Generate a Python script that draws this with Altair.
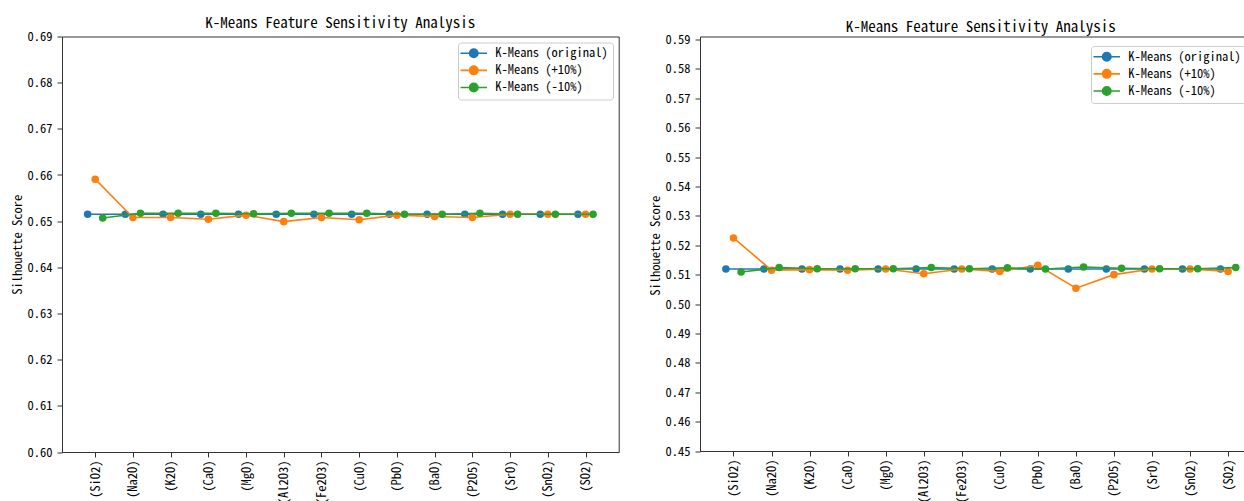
import altair as alt
import pandas as pd

features = ["(SiO2)", "(Na2O)", "(K2O)", "(CaO)", "(MgO)", "(Al2O3)", "(Fe2O3)",
            "(CuO)", "(PbO)", "(BaO)", "(P2O5)", "(SrO)", "(SnO2)", "(SO2)"]
series_names = ["K-Means (original)", "K-Means (+10%)", "K-Means (-10%)"]
colors = ["#1f77b4", "#ff7f0e", "#2ca02c"]

# left panel
left_original = [0.6515] * 14
left_plus = [0.6591, 0.6508, 0.6508, 0.6504, 0.6513, 0.6499, 0.6508,
             0.6503, 0.6513, 0.6510, 0.6508, 0.6515, 0.6515, 0.6515]
left_minus = [0.6507, 0.6517, 0.6517, 0.6517, 0.6516, 0.6517, 0.6517,
              0.6517, 0.6515, 0.6515, 0.6517, 0.6515, 0.6515, 0.6515]
left_ticks = [0.60, 0.61, 0.62, 0.63, 0.64, 0.65, 0.66, 0.67, 0.68, 0.69]

# right panel
right_original = [0.5119] * 14
right_plus = [0.5225, 0.5115, 0.5117, 0.5115, 0.5119, 0.5103, 0.5119,
              0.5111, 0.5132, 0.5054, 0.5100, 0.5119, 0.5119, 0.5111]
right_minus = [0.5109, 0.5124, 0.5120, 0.5120, 0.5120, 0.5124, 0.5120,
               0.5123, 0.5119, 0.5126, 0.5122, 0.5120, 0.5120, 0.5124]
right_ticks = [0.45, 0.46, 0.47, 0.48, 0.49, 0.50, 0.51, 0.52, 0.53, 0.54,
               0.55, 0.56, 0.57, 0.58, 0.59]

offsets = {"K-Means (original)": -0.2, "K-Means (+10%)": 0.0, "K-Means (-10%)": 0.2}

FONT = "Noto Sans Mono CJK SC, DejaVu Sans Mono, monospace"
TITLE = "K-Means Feature Sensitivity Analysis"

label_expr = "[" + ",".join("'%s'" % f for f in features) + "][datum.value]"

# legend handle: short line with a filled dot in its middle (circle as beziers);
# drawn with a small nominal symbol size so the legend rows stay compact
symbol_path = ("M-2.65,0L2.65,0"
               "M0.84,0C0.84,0.464 0.464,0.84 0,0.84"
               "C-0.464,0.84 -0.84,0.464 -0.84,0"
               "C-0.84,-0.464 -0.464,-0.84 0,-0.84"
               "C0.464,-0.84 0.84,-0.464 0.84,0Z")


def make_panel(orig, plus, minus, ticks, w, h, y_range, title_offset, legend_place):
    rows = []
    for name, vals in zip(series_names, [orig, plus, minus]):
        for i, v in enumerate(vals):
            rows.append({"idx": i, "series": name, "value": v})
    df = pd.DataFrame(rows)
    df["xpos"] = df["idx"] + df["series"].map(offsets)

    x = alt.X("xpos:Q",
              scale=alt.Scale(domain=[-0.88, 13.88], nice=False, zero=False),
              axis=alt.Axis(values=list(range(14)), labelExpr=label_expr,
                            labelAngle=-90, title=None, grid=False, labelPadding=3))
    yscale = dict(domain=[ticks[0], ticks[-1]], nice=False, zero=False)
    if y_range is not None:
        yscale["range"] = y_range
    y = alt.Y("value:Q",
              scale=alt.Scale(**yscale),
              axis=alt.Axis(values=ticks, format=".2f", title="Silhouette Score",
                            grid=False))
    color = alt.Color("series:N",
                      scale=alt.Scale(domain=series_names, range=colors),
                      legend=alt.Legend(title=None,
                                        symbolType=symbol_path, symbolSize=100,
                                        symbolStrokeWidth=1.6, symbolOffset=5,
                                        fillColor="white", strokeColor="#cccccc",
                                        padding=4.5, cornerRadius=3, rowPadding=1.1,
                                        labelOffset=15.3,
                                        labelFontSize=12.5, labelFont=FONT,
                                        labelColor="black", **legend_place))
    layers = []
    for name in series_names:
        base = alt.Chart(df).transform_filter(alt.datum.series == name)
        layers.append(base.mark_line(strokeWidth=1.6).encode(x=x, y=y, color=color))
        layers.append(base.mark_point(filled=True, size=57, opacity=1).encode(x=x, y=y, color=color))
    return alt.layer(*layers).properties(
        width=w, height=h,
        title=alt.TitleParams(TITLE, fontSize=15, fontWeight="normal", font=FONT,
                              offset=title_offset, color="black"))


left = make_panel(left_original, left_plus, left_minus, left_ticks, 556.7, 415.5,
                  None, -0.5, dict(orient="top-right", offset=5.5))
right = make_panel(right_original, right_plus, right_minus, right_ticks, 561.6, 414.5,
                   [414.5, 3], -1.5, dict(orient="none", legendX=391, legendY=9.5))

L, T = 62, 36.5
chart = alt.hconcat(left, right, spacing=29).resolve_scale(
    color="independent"
).resolve_legend(color="independent").properties(
    autosize=alt.AutoSizeParams(type="none"),
    padding={"left": L, "top": T, "right": 1244 - L, "bottom": 501 - T}
).configure_view(stroke="#333333", strokeWidth=1).configure_axis(
    labelFont=FONT, titleFont=FONT, labelFontSize=12.5, titleFontSize=12.5,
    labelColor="black", titleColor="black", titleFontWeight="normal",
    domainColor="#333333", tickColor="#333333", tickSize=5, labelPadding=5,
    titlePadding=2
)

chart.save("out.html", embed_options={"renderer": "svg", "actions": False})
